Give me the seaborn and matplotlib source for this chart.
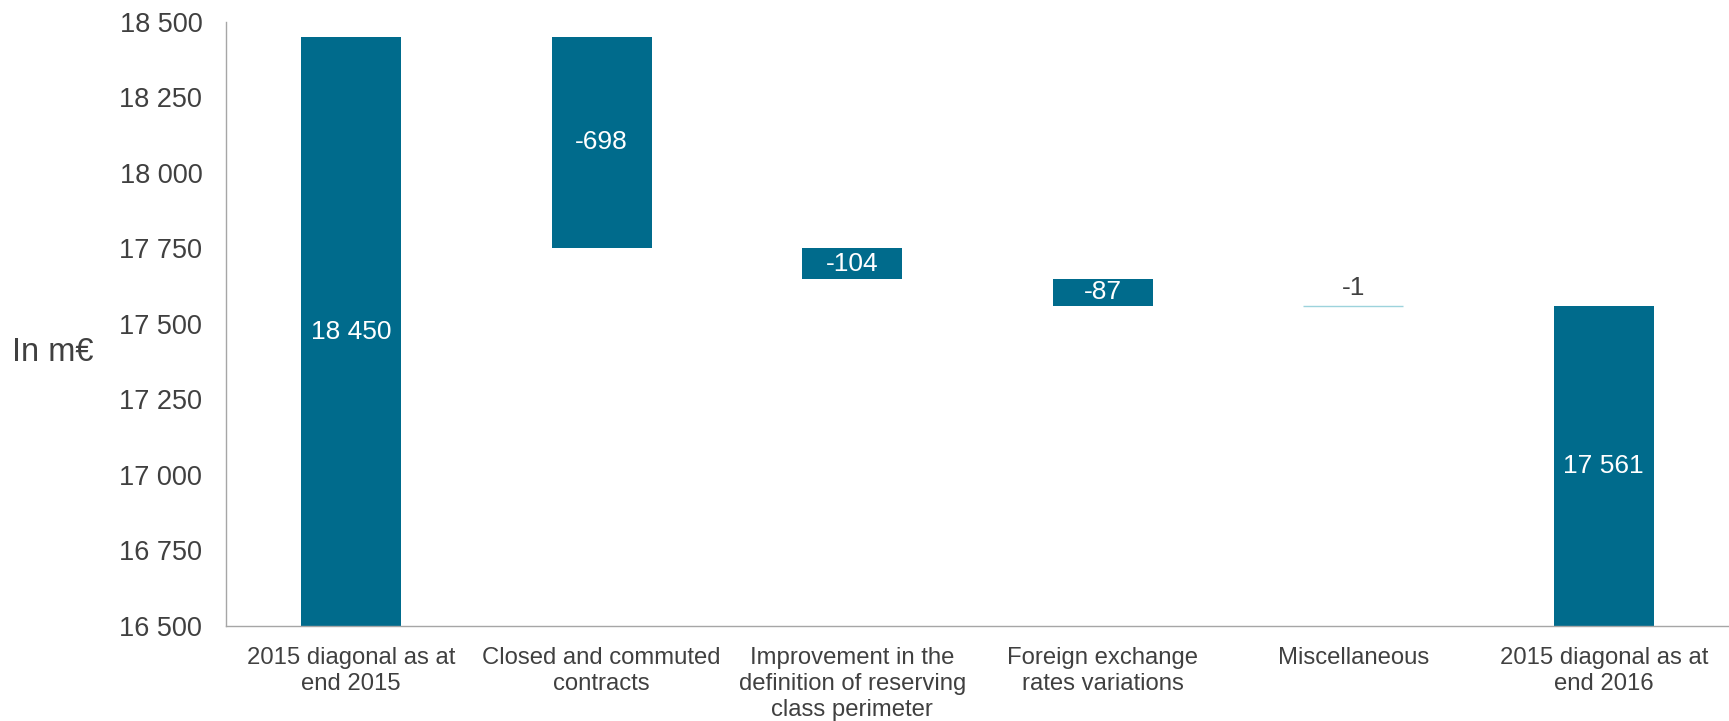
import matplotlib
matplotlib.use("Agg")
import matplotlib.pyplot as plt
import seaborn as sns
import numpy as np
import pandas as pd

categories = [
    "2015 diagonal as at\nend 2015",
    "Closed and commuted\ncontracts",
    "Improvement in the\ndefinition of reserving\nclass perimeter",
    "Foreign exchange\nrates variations",
    "Miscellaneous",
    "2015 diagonal as at\nend 2016",
]
values = [18450, -698, -104, -87, -1, 17561]
labels = ["18 450", "-698", "-104", "-87", "-1", "17 561"]
is_total = [True, False, False, False, False, True]
y_ticks = [16500, 16750, 17000, 17250, 17500, 17750, 18000, 18250, 18500]

# waterfall geometry from data
bottoms, heights = [], []
running = 0
for v, t in zip(values, is_total):
    if t:
        bottoms.append(16500)
        heights.append(v - 16500)
        running = v
    else:
        bottoms.append(running + v)
        heights.append(-v)
        running = running + v

df = pd.DataFrame({"cat": categories, "height": heights, "bottom": bottoms})

sns.set_theme(style="white")
plt.rcParams["font.family"] = ["Liberation Sans", "DejaVu Sans"]

main_color = "#006B8C"
light_color = "#9DD3DC"
text_color = "#404040"

fig = plt.figure(figsize=(17.29, 7.21), dpi=100)
ax = fig.add_axes([0.1307, 0.1318, 0.8693, 0.8377])

sns.barplot(data=df, x="cat", y="height", bottom=df["bottom"].values, color=main_color,
            width=0.4, saturation=1, ax=ax, errorbar=None)

patches = ax.patches
for i, p in enumerate(patches):
    p.set_facecolor(main_color)
    p.set_edgecolor("none")
    p.set_linewidth(0)
# Miscellaneous: thin light line
p = patches[4]
p.set_facecolor(light_color)
p.set_edgecolor(light_color)
p.set_linewidth(1.0)

ax.set_ylim(16500, 18500)
ax.set_xlim(-0.5, 5.5)
ax.set_yticks(y_ticks)
ax.set_yticklabels([f"{t:,}".replace(",", " ") for t in y_ticks], fontsize=19.5, color=text_color)
ax.tick_params(axis="y", pad=17, length=0)
ax.tick_params(axis="x", pad=15, length=0, labelsize=17.2, labelcolor=text_color)
for lab in ax.get_xticklabels():
    lab.set_linespacing(1.23)
ax.set_xlabel("")
ax.set_ylabel("In m€", fontsize=23.5, color=text_color, rotation=0, labelpad=0,
              ha="center", va="center")
ax.yaxis.set_label_coords(-0.115, 0.452)

for s in ["top", "right"]:
    ax.spines[s].set_visible(False)
for s in ["left", "bottom"]:
    ax.spines[s].set_color("#A6A6A6")
    ax.spines[s].set_linewidth(1.0)

for i, (b, h, lab) in enumerate(zip(bottoms, heights, labels)):
    if i == 4:
        ax.annotate(lab, (i, b + h), xytext=(0, 13), textcoords="offset points",
                    ha="center", va="center", fontsize=19, color=text_color)
    else:
        ax.text(i, b + h / 2, lab, ha="center", va="center", fontsize=19, color="white")

fig.savefig("out.png", dpi=100)
